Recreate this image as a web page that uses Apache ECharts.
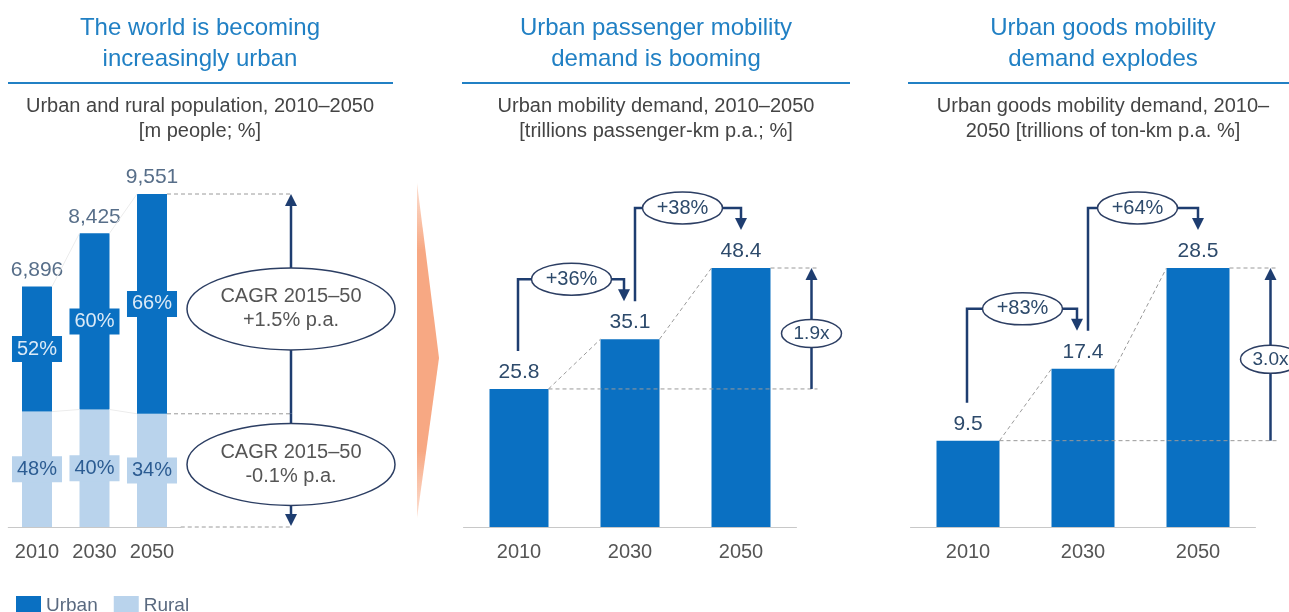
<!DOCTYPE html>
<html>
<head>
<meta charset="utf-8">
<script src="https://cdn.jsdelivr.net/npm/echarts@6/dist/echarts.min.js"></script>
<style>
    html, body { margin: 0; padding: 0; background: #fff; }
    #chart { width: 1289px; height: 612px; }
</style>
</head>
<body>
<div id="chart"></div>
<script>
// data
const years = ['2010', '2030', '2050'];
const totalPop = [6896, 8425, 9551];
const urbanPop = [3586, 5055, 6304];
const ruralPop = [3310, 3370, 3247];
const urbanShare = [52, 60, 66];
const ruralShare = [48, 40, 34];
const passengerDemand = [25.8, 35.1, 48.4];
const goodsDemand = [9.5, 17.4, 28.5];
const passengerGrowth = ['+36%', '+38%'];
const goodsGrowth = ['+83%', '+64%'];
const passengerMultiple = '1.9x';
const goodsMultiple = '3.0x';
const cagrUrban = ['CAGR 2015–50', '+1.5% p.a.'];
const cagrRural = ['CAGR 2015–50', '-0.1% p.a.'];

const FONT = '"Liberation Sans", Arial, sans-serif';
const BLUE = '#0a70c2';
const LIGHT = '#b9d3ec';
const TITLE_BLUE = '#2180c4';
const NAVY = '#1e3d70';
const DARK_TEXT = '#2d4a6b';

const chart = echarts.init(document.getElementById('chart'));

const axisBase = {
    type: 'category',
    data: years,
    axisTick: { show: false },
    axisLine: { lineStyle: { color: '#c8c8c8', width: 1 } },
    axisLabel: { interval: 0, fontSize: 20, color: '#555', margin: 15, fontFamily: FONT }
};

const option = {
    animation: false,
    textStyle: { fontFamily: FONT },
    grid: [
        { left: 8.25, width: 172.5, top: 194, bottom: 85 },
        { left: 463.5, width: 333, top: 268, bottom: 85 },
        { left: 910.5, width: 345, top: 268, bottom: 85 }
    ],
    xAxis: [
        Object.assign({ gridIndex: 0 }, axisBase),
        Object.assign({ gridIndex: 1 }, axisBase),
        Object.assign({ gridIndex: 2 }, axisBase)
    ],
    yAxis: [
        { gridIndex: 0, type: 'value', min: 0, max: Math.max(...totalPop), show: false },
        { gridIndex: 1, type: 'value', min: 0, max: Math.max(...passengerDemand), show: false },
        { gridIndex: 2, type: 'value', min: 0, max: Math.max(...goodsDemand), show: false }
    ],
    legend: {
        data: ['Urban', 'Rural'],
        left: 16,
        top: 596,
        padding: 0,
        icon: 'rect',
        itemWidth: 25,
        itemHeight: 20,
        itemGap: 16,
        textStyle: { fontSize: 19, color: '#5a6a80', fontFamily: FONT }
    },
    series: [
        {
            name: 'Rural',
            type: 'bar',
            stack: 'pop',
            xAxisIndex: 0,
            yAxisIndex: 0,
            barWidth: 30,
            data: ruralPop,
            itemStyle: { color: LIGHT },
            label: {
                show: true,
                position: 'inside',
                formatter: p => ruralShare[p.dataIndex] + '%',
                backgroundColor: LIGHT,
                color: '#2c5c92',
                padding: [3, 5],
                fontSize: 20
            }
        },
        {
            name: 'Urban',
            type: 'bar',
            stack: 'pop',
            xAxisIndex: 0,
            yAxisIndex: 0,
            barWidth: 30,
            data: urbanPop,
            itemStyle: { color: BLUE },
            label: {
                show: true,
                position: 'inside',
                formatter: p => urbanShare[p.dataIndex] + '%',
                backgroundColor: BLUE,
                color: '#dbeaf7',
                padding: [3, 5],
                fontSize: 20
            }
        },
        {
            name: 'Total',
            type: 'scatter',
            xAxisIndex: 0,
            yAxisIndex: 0,
            symbolSize: 0,
            silent: true,
            data: totalPop,
            itemStyle: { color: 'transparent' },
            label: {
                show: true,
                position: 'top',
                distance: 6,
                formatter: p => p.value.toLocaleString('en-US'),
                color: DARK_TEXT,
                fontSize: 21
            }
        },
        {
            name: 'Passenger',
            type: 'bar',
            xAxisIndex: 1,
            yAxisIndex: 1,
            barWidth: 59,
            data: passengerDemand,
            itemStyle: { color: BLUE },
            label: { show: true, position: 'top', distance: 6, color: DARK_TEXT, fontSize: 21 }
        },
        {
            name: 'Goods',
            type: 'bar',
            xAxisIndex: 2,
            yAxisIndex: 2,
            barWidth: 63,
            data: goodsDemand,
            itemStyle: { color: BLUE },
            label: { show: true, position: 'top', distance: 6, color: DARK_TEXT, fontSize: 21 }
        }
    ]
};

chart.setOption(option);

// ---- annotations, positioned from the axes ----
const px = (gi, i, v) => chart.convertToPixel({ xAxisIndex: gi, yAxisIndex: gi }, [i, v]);

function text(x, y, str, size, color, z) {
    return {
        type: 'text', x: x, y: y, z: z || 20,
        style: { text: str, fontSize: size, fontFamily: FONT, fill: color, align: 'center', verticalAlign: 'middle' }
    };
}
function line(x1, y1, x2, y2, style) {
    return { type: 'line', z: 15, shape: { x1, y1, x2, y2 }, style: style };
}
const dashed = { stroke: '#9a9a9a', lineWidth: 1, lineDash: [4, 3] };
const navy = { stroke: NAVY, lineWidth: 2.5 };
function headUp(x, y) {
    return { type: 'polygon', z: 16, shape: { points: [[x, y], [x - 6, y + 12], [x + 6, y + 12]] }, style: { fill: NAVY } };
}
function headDown(x, y) {
    return { type: 'polygon', z: 16, shape: { points: [[x, y], [x - 6, y - 12], [x + 6, y - 12]] }, style: { fill: NAVY } };
}
function ellipse(cx, cy, rx, ry) {
    return { type: 'ellipse', z: 17, shape: { cx, cy, rx, ry }, style: { fill: '#fff', stroke: '#2c3e63', lineWidth: 1.5 } };
}

function header(cx, t1, t2, s1, s2, x1, x2) {
    return [
        text(cx, 28, t1, 24, TITLE_BLUE),
        text(cx, 59, t2, 24, TITLE_BLUE),
        line(x1, 83, x2, 83, { stroke: TITLE_BLUE, lineWidth: 2 }),
        text(cx, 106, s1, 20, '#444'),
        text(cx, 131, s2, 20, '#444')
    ];
}

function demandPanel(gi, data, bw, growth, multiple) {
    const out = [];
    const c = data.map((v, i) => px(gi, i, v));
    const step = c[1][0] - c[0][0];
    const arrowX = c[2][0] + step / 2 + 15;
    // dashed guides
    out.push(line(c[0][0] + bw / 2, c[0][1], arrowX + 6, c[0][1], dashed));
    out.push(line(c[2][0] + bw / 2, c[2][1], arrowX + 6, c[2][1], dashed));
    for (let i = 0; i < 2; i++) {
        out.push(line(c[i][0] + bw / 2, c[i][1], c[i + 1][0] - bw / 2, c[i + 1][1], dashed));
    }
    // multiple arrow
    out.push(line(arrowX, c[0][1], arrowX, c[2][1] + 10, navy));
    out.push(headUp(arrowX, c[2][1]));
    const my = (c[0][1] + c[2][1]) / 2 + 5;
    out.push(ellipse(arrowX, my, 30, 14));
    out.push(text(arrowX, my, multiple, 19, DARK_TEXT, 21));
    // growth brackets
    for (let i = 0; i < 2; i++) {
        const lx = c[i][0] + (i === 0 ? -1 : 5);
        const rx = c[i + 1][0] + (i + 1 === 2 ? 0 : -6);
        const y0 = c[i][1] - 38;
        const yh = c[i + 1][1] - 60;
        const tip = c[i + 1][1] - 38;
        out.push({
            type: 'polyline', z: 15,
            shape: { points: [[lx, y0], [lx, yh], [rx, yh], [rx, tip - 10]] },
            style: { stroke: NAVY, lineWidth: 2.5, fill: null }
        });
        out.push(headDown(rx, tip));
        const ex = (c[i][0] + c[i + 1][0]) / 2 - 3;
        out.push(ellipse(ex, yh, 40, 16));
        out.push(text(ex, yh, growth[i], 20, DARK_TEXT, 21));
    }
    return out;
}

function buildGraphic() {
    let g = [];
    g = g.concat(header(200, 'The world is becoming', 'increasingly urban',
        'Urban and rural population, 2010–2050', '[m people; %]', 8, 393));
    g = g.concat(header(656, 'Urban passenger mobility', 'demand is booming',
        'Urban mobility demand, 2010–2050', '[trillions passenger-km p.a.; %]', 462, 850));
    g = g.concat(header(1103, 'Urban goods mobility', 'demand explodes',
        'Urban goods mobility demand, 2010–', '2050 [trillions of ton-km p.a. %]', 908, 1289));

    // chevron between first and second panel
    g.push({
        type: 'polygon', z: 1,
        shape: { points: [[417, 183], [439, 358], [417, 518]] },
        style: {
            fill: new echarts.graphic.LinearGradient(0, 0, 0, 1, [
                { offset: 0, color: 'rgba(247,168,131,0.35)' },
                { offset: 0.2, color: '#f7a883' },
                { offset: 0.8, color: '#f7a883' },
                { offset: 1, color: 'rgba(247,168,131,0.35)' }
            ])
        }
    });

    // panel 1
    const bw = 30;
    const tops = totalPop.map((v, i) => px(0, i, v));
    const mids = ruralPop.map((v, i) => px(0, i, v));
    const base = px(0, 2, 0);
    const step = tops[1][0] - tops[0][0];
    for (let i = 0; i < 2; i++) {
        g.push(line(tops[i][0] + bw / 2, tops[i][1], tops[i + 1][0] - bw / 2, tops[i + 1][1], { stroke: '#ececec', lineWidth: 1 }));
        g.push(line(mids[i][0] + bw / 2, mids[i][1], mids[i + 1][0] - bw / 2, mids[i + 1][1], { stroke: '#ececec', lineWidth: 1 }));
    }
    const ax = tops[2][0] + 139;
    g.push(line(tops[2][0] + bw / 2, tops[2][1], ax, tops[2][1], dashed));
    g.push(line(mids[2][0] + bw / 2, mids[2][1], ax, mids[2][1], dashed));
    g.push(line(base[0] + step / 2, base[1], ax, base[1], dashed));
    g.push(line(ax, mids[2][1], ax, tops[2][1] + 10, navy));
    g.push(headUp(ax, tops[2][1]));
    g.push(line(ax, mids[2][1], ax, base[1] - 10, navy));
    g.push(headDown(ax, base[1] - 1));
    const e1 = (tops[2][1] + mids[2][1]) / 2 + 5;
    const e2 = (mids[2][1] + base[1]) / 2 - 6;
    g.push(ellipse(ax, e1, 104, 41));
    g.push(text(ax, e1 - 12, cagrUrban[0], 20, '#555', 21));
    g.push(text(ax, e1 + 12, cagrUrban[1], 20, '#555', 21));
    g.push(ellipse(ax, e2, 104, 41));
    g.push(text(ax, e2 - 12, cagrRural[0], 20, '#555', 21));
    g.push(text(ax, e2 + 12, cagrRural[1], 20, '#555', 21));

    g = g.concat(demandPanel(1, passengerDemand, 59, passengerGrowth, passengerMultiple));
    g = g.concat(demandPanel(2, goodsDemand, 63, goodsGrowth, goodsMultiple));
    return g;
}

chart.setOption({ graphic: buildGraphic() });
</script>
</body>
</html>
